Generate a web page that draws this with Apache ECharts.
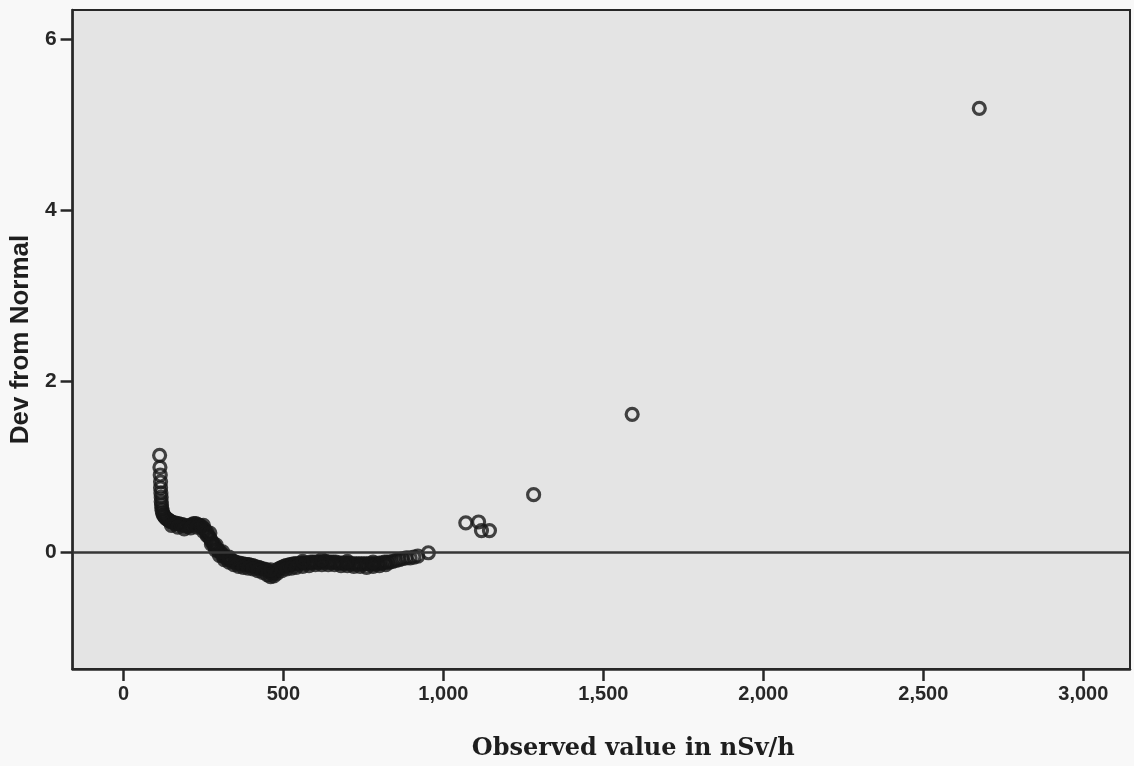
<!DOCTYPE html>
<html>
<head>
<meta charset="utf-8">
<title>Detrended Normal Q-Q Plot</title>
<script src="https://cdn.jsdelivr.net/npm/echarts@6/dist/echarts.min.js"></script>
<style>
  html, body { margin: 0; padding: 0; background: #f8f8f8; }
  #chart { width: 1134px; height: 766px; }
</style>
</head>
<body>
<div id="chart"></div>
<script>
// Observed dose rates (nSv/h), sorted, and their deviation from the normal expectation
const observed = [
  113, 114, 115, 116, 116, 117, 118, 118, 119, 120, 121, 123, 125,
  128, 131, 134, 138, 142, 146, 150, 155, 160, 166, 172, 178, 184, 190, 196,
  202, 208, 214, 220, 226, 232, 238, 242, 248, 254, 260, 265, 270, 275, 280,
  285, 290, 296, 302, 308, 314, 320, 326, 332, 338, 344, 350, 356, 362, 368,
  374, 380, 386, 392, 398, 404, 410, 416, 422, 428, 434, 440, 446, 452, 458,
  463, 468, 473, 478, 484, 490, 496, 502, 508, 514, 520, 526, 532, 538, 544,
  550, 557, 564, 571, 578, 585, 592, 600, 608, 616, 624, 632, 640, 648, 656,
  664, 672, 680, 688, 696, 704, 712, 720, 728, 736, 744, 752, 760, 768, 776,
  784, 792, 800, 808, 816, 824, 832, 842, 852, 862, 872, 884, 896, 908, 920,
  953, 1070, 1110, 1119, 1144, 1282, 1590, 2675
];
const deviation = [
  1.13, 0.99, 0.90, 0.82, 0.75, 0.69, 0.64, 0.59, 0.55, 0.51, 0.48, 0.45, 0.43,
  0.42, 0.40, 0.39, 0.38, 0.37, 0.36, 0.35, 0.34, 0.34, 0.33, 0.33, 0.32, 0.32, 0.31, 0.30,
  0.30, 0.31, 0.32, 0.33, 0.33, 0.32, 0.31, 0.30, 0.28, 0.26, 0.23, 0.19, 0.16, 0.13, 0.10,
  0.07, 0.04, 0.02, 0.00, -0.03, -0.05, -0.07, -0.08, -0.09, -0.10, -0.11, -0.12, -0.13, -0.13, -0.14,
  -0.14, -0.15, -0.15, -0.15, -0.16, -0.16, -0.17, -0.18, -0.18, -0.19, -0.20, -0.20, -0.21, -0.22, -0.24,
  -0.25, -0.25, -0.24, -0.22, -0.20, -0.19, -0.18, -0.17, -0.16, -0.16, -0.15, -0.15, -0.14, -0.14, -0.14,
  -0.14, -0.13, -0.13, -0.13, -0.13, -0.12, -0.12, -0.12, -0.12, -0.12, -0.12, -0.11, -0.12, -0.12, -0.12,
  -0.12, -0.13, -0.13, -0.13, -0.13, -0.13, -0.14, -0.14, -0.14, -0.14, -0.14, -0.14, -0.14, -0.14, -0.14,
  -0.14, -0.14, -0.13, -0.13, -0.12, -0.12, -0.12, -0.11, -0.10, -0.09, -0.08, -0.07, -0.07, -0.06, -0.05,
  -0.01, 0.34, 0.35, 0.25, 0.25, 0.67, 1.61, 5.19
];
// Tied readings that sit just above or below the main run of points
const observedTies = [
  150, 170, 190, 210, 230, 250, 262, 275, 288, 300, 315, 330, 345, 360, 375,
  390, 405, 420, 435, 450, 460, 470, 480, 495, 510, 525, 540, 560, 580, 600,
  620, 640, 660, 680, 700, 720, 740, 760, 780, 800, 820,
  250, 270, 290, 310, 330, 460, 560, 620, 700, 780
];
const deviationTies = [
  0.31, 0.29, 0.27, 0.28, 0.29, 0.24, 0.19, 0.09, 0.02, -0.04, -0.09, -0.12, -0.15, -0.17, -0.18,
  -0.19, -0.20, -0.22, -0.24, -0.27, -0.29, -0.28, -0.25, -0.22, -0.20, -0.19, -0.18, -0.17, -0.16, -0.15,
  -0.15, -0.15, -0.15, -0.16, -0.16, -0.17, -0.17, -0.18, -0.17, -0.16, -0.15,
  0.31, 0.22, 0.08, 0.00, -0.06, -0.21, -0.11, -0.09, -0.11, -0.12
];
const xTicks = [0, 500, 1000, 1500, 2000, 2500, 3000];
const yTicks = [0, 2, 4, 6];

const points = observed.map((v, i) => [v, deviation[i]])
  .concat(observedTies.map((v, i) => [v, deviationTies[i]]));

const ink = '#272727';
const labelFont = "'Liberation Sans', Arial, sans-serif";

const chart = echarts.init(document.getElementById('chart'), null, { renderer: 'canvas' });

chart.setOption({
  backgroundColor: '#f8f8f8',
  animation: false,
  grid: {
    left: 70, right: 4, top: 10, bottom: 97,
    show: true,
    backgroundColor: '#e4e4e4',
    borderColor: ink,
    borderWidth: 2
  },
  xAxis: {
    type: 'value',
    min: -159,
    max: 3146,
    splitLine: { show: false },
    axisLine: { show: true, onZero: false, lineStyle: { color: ink, width: 2.5 } },
    axisTick: {
      show: true, length: 12, customValues: xTicks,
      lineStyle: { color: ink, width: 2.5 }
    },
    axisLabel: {
      customValues: xTicks,
      margin: 15,
      color: ink,
      fontFamily: labelFont,
      fontWeight: 'bold',
      fontSize: 20,
      formatter: v => v.toLocaleString('en-US')
    },
    name: 'Observed value in nSv/h',
    nameLocation: 'middle',
    nameGap: 68,
    nameTextStyle: {
      color: '#1e1e1e',
      fontFamily: "'DejaVu Serif', 'Liberation Serif', serif",
      fontWeight: 'bold',
      fontSize: 24,
      padding: [0, 0, 0, 64]
    }
  },
  yAxis: {
    type: 'value',
    min: -1.37,
    max: 6.34,
    splitLine: { show: false },
    axisLine: { show: true, onZero: false, lineStyle: { color: ink, width: 2.5 } },
    axisTick: {
      show: true, length: 12, customValues: yTicks,
      lineStyle: { color: ink, width: 2.5 }
    },
    axisLabel: {
      customValues: yTicks,
      margin: 16,
      color: ink,
      fontFamily: labelFont,
      fontWeight: 'bold',
      fontSize: 21
    },
    name: 'Dev from Normal',
    nameLocation: 'middle',
    nameGap: 36,
    nameTextStyle: {
      color: '#1e1e1e',
      fontFamily: "'Liberation Sans', Arial, sans-serif",
      fontWeight: 'bold',
      fontSize: 26
    }
  },
  series: [{
    type: 'scatter',
    data: points,
    symbol: 'circle',
    symbolSize: 12,
    itemStyle: {
      color: 'rgba(0,0,0,0)',
      borderColor: '#161616',
      borderWidth: 3.2
    },
    markLine: {
      silent: true,
      symbol: ['none', 'none'],
      label: { show: false },
      lineStyle: { color: '#363636', width: 2.5, type: 'solid' },
      data: [{ yAxis: 0 }]
    }
  }]
});
</script>
</body>
</html>
